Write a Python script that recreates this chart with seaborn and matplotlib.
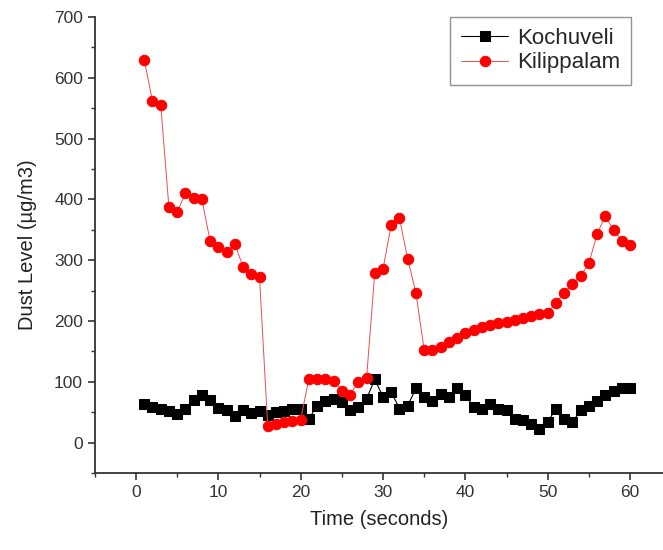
import pandas as pd
import seaborn as sns
import matplotlib.pyplot as plt
from matplotlib.ticker import MultipleLocator

# Readings, one per second
time_s = list(range(1, 61))

kochuveli = [64, 58, 55, 52, 47, 55, 70, 78, 70, 57,
             54, 43, 54, 49, 52, 45, 50, 52, 56, 56,
             39, 61, 69, 72, 67, 53, 58, 72, 104, 75,
             83, 56, 61, 89, 75, 69, 80, 75, 90, 78,
             58, 56, 64, 56, 53, 39, 37, 31, 23, 34,
             56, 39, 34, 53, 61, 69, 78, 85, 89, 90]

kilippalam = [630, 562, 556, 387, 379, 410, 403, 400, 332, 322,
              314, 327, 289, 277, 272, 27, 31, 34, 36, 38,
              105, 105, 104, 102, 85, 78, 100, 106, 279, 286,
              358, 369, 302, 246, 152, 153, 158, 165, 172, 180,
              186, 190, 193, 196, 199, 202, 205, 208, 211, 214,
              230, 246, 261, 274, 295, 343, 373, 349, 332, 325]

df = pd.DataFrame({'Time': time_s, 'Kochuveli': kochuveli, 'Kilippalam': kilippalam})

sns.set_style('white')
plt.rcParams['font.family'] = ['Liberation Sans', 'DejaVu Sans']

fig = plt.figure(figsize=(6.63, 5.5), dpi=100)
ax = fig.add_axes([0.143, 0.14, 0.857, 0.829])

sns.lineplot(data=df, x='Time', y='Kochuveli', ax=ax, color='black', linewidth=0.8,
             marker='s', markersize=6.5, markeredgecolor='black', label='Kochuveli')
sns.lineplot(data=df, x='Time', y='Kilippalam', ax=ax, color='#e85050', linewidth=0.7,
             marker='o', markersize=7.5, markerfacecolor='#ff0000',
             markeredgecolor='#ff0000', label='Kilippalam')

ax.set_xlim(-5, 64)
ax.set_ylim(-50, 700)
ax.xaxis.set_major_locator(MultipleLocator(10))
ax.xaxis.set_minor_locator(MultipleLocator(5))
ax.yaxis.set_major_locator(MultipleLocator(100))
ax.yaxis.set_minor_locator(MultipleLocator(50))

for side in ['top', 'right']:
    ax.spines[side].set_visible(False)
for side in ['left', 'bottom']:
    ax.spines[side].set_color('#333333')
    ax.spines[side].set_linewidth(1.3)

ax.tick_params(which='major', direction='out', length=5, width=1.2, color='#333333',
               labelsize=12.5, labelcolor='#333333', left=True, bottom=True)
ax.tick_params(which='minor', direction='out', length=3, width=1.0, color='#333333',
               left=True, bottom=True)

ax.set_xlabel('Time (seconds)', fontsize=14.5, color='#222222', labelpad=7)
ax.set_ylabel('Dust Level (µg/m3)', fontsize=14.5, color='#222222', labelpad=12)

leg = ax.legend(loc='upper right', bbox_to_anchor=(0.944, 1.0), borderaxespad=0,
                fontsize=16, frameon=True, fancybox=False, edgecolor='#777777',
                handlelength=2.1, handletextpad=0.4, borderpad=0.5, labelspacing=0.15)
leg.get_frame().set_linewidth(1.0)

fig.savefig('out.png', dpi=100)
